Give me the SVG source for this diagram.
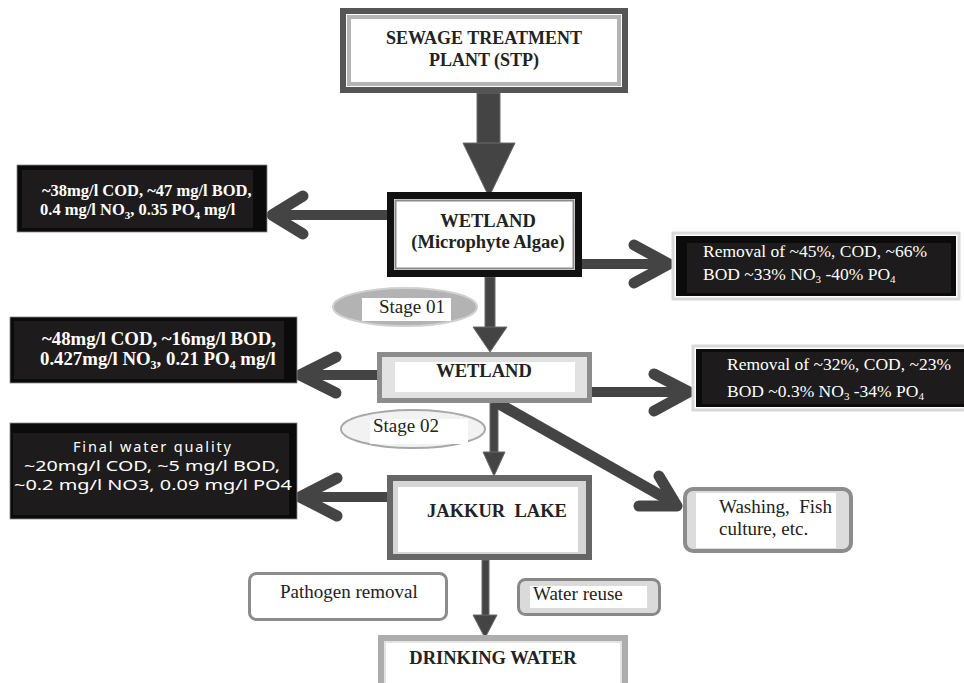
<svg xmlns="http://www.w3.org/2000/svg" width="964" height="683" viewBox="0 0 964 683">
<defs>
<style>
.bg{fill:#ffffff}
.hd{font-family:"Liberation Serif","DejaVu Serif",serif;font-weight:bold;font-size:18.5px;fill:#222;text-anchor:middle}
.wb{font-family:"Liberation Serif","DejaVu Serif",serif;font-weight:bold;font-size:16.5px;fill:#fff}
.wr{font-family:"Liberation Serif","DejaVu Serif",serif;font-size:17.5px;fill:#fff}
.rg{font-family:"Liberation Serif","DejaVu Serif",serif;font-size:19px;fill:#222}
.hw{font-family:"Noto Sans","DejaVu Sans",sans-serif;font-size:14.5px;fill:#fff;text-anchor:middle}
.blk{fill:#0b0b0b}
.blkin{fill:#1d1b1b}
.shaft{stroke:#444;stroke-width:10;fill:none;stroke-linecap:butt}
.chev{stroke:#444;stroke-width:11;fill:none;stroke-linecap:round;stroke-linejoin:round}
.solid{fill:#444;stroke:#6a6a6a;stroke-width:1}
</style>
</defs>
<rect class="bg" x="0" y="0" width="964" height="683"/>

<g id="connectors">
  <rect class="solid" x="477" y="93" width="23" height="51"/>
  <polygon class="solid" points="463,143 515,143 489,197"/>
  <rect class="solid" x="485" y="277" width="10" height="51"/>
  <polygon class="solid" points="473,327 507,327 490,352"/>
  <rect class="solid" x="490" y="403" width="8" height="50"/>
  <polygon class="solid" points="483,452 505,452 494,476"/>
  <rect class="solid" x="482" y="560" width="7" height="56"/>
  <polygon class="solid" points="473,615 497,615 485,638"/>
  <line class="shaft" x1="387" y1="215" x2="274" y2="215"/>
  <polyline class="chev" points="303,196 272,215 303,234"/>
  <line class="shaft" x1="378" y1="375" x2="302" y2="375"/>
  <polyline class="chev" points="336,357 300,375 336,393"/>
  <line class="shaft" x1="388" y1="497" x2="302" y2="497"/>
  <polyline class="chev" points="337,478 300,497 337,516"/>
  <line class="shaft" x1="582" y1="264" x2="666" y2="264"/>
  <polyline class="chev" points="634,245 669,264 634,283"/>
  <line class="shaft" x1="592" y1="392" x2="686" y2="392"/>
  <polyline class="chev" points="654,374 689,392 654,411"/>
  <line x1="494" y1="401" x2="674" y2="503" stroke="#444" stroke-width="11"/>
  <polyline class="chev" points="659,476 677,506 639,506"/>
</g>

<g id="stp">
  <rect x="343" y="11" width="282" height="79" fill="#fff" stroke="#555" stroke-width="6"/>
  <rect x="349" y="17" width="270" height="67" fill="#fff" stroke="#b4b4b4" stroke-width="4"/>
  <text class="hd" x="484" y="44" style="font-size:18px">SEWAGE TREATMENT</text>
  <text class="hd" x="484" y="66" style="font-size:18px">PLANT (STP)</text>
</g>

<g id="wetland1">
  <rect x="390.5" y="195.5" width="188" height="78" fill="#fff" stroke="#111" stroke-width="7"/>
  <rect x="395.5" y="200.5" width="178" height="68" fill="#fff" stroke="#8a8a8a" stroke-width="2"/>
  <text class="hd" x="488" y="227">WETLAND</text>
  <text class="hd" x="488" y="248">(Microphyte Algae)</text>
</g>

<g id="left1">
  <rect x="17" y="165" width="250" height="67" class="blk" stroke="#888" stroke-width="0.8"/>
  <rect x="22" y="170" width="231" height="58" class="blkin"/>
  <text class="wb" x="42" y="196">~38mg/l COD, ~47 mg/l BOD,</text>
  <text class="wb" x="40" y="215">0.4 mg/l NO<tspan font-size="11" dy="4">3</tspan><tspan dy="-4">, 0.35 PO</tspan><tspan font-size="11" dy="4">4</tspan><tspan dy="-4"> mg/l</tspan></text>
</g>

<g id="right1">
  <rect x="673" y="233" width="286" height="66" fill="#fff" stroke="#d8d8d8" stroke-width="3"/>
  <rect x="676" y="236" width="280" height="60" class="blk"/>
  <rect x="687" y="243" width="264" height="50" class="blkin"/>
  <text class="wr" x="703" y="257">Removal of ~45%, COD, ~66%</text>
  <text class="wr" x="703" y="280">BOD ~33% NO<tspan font-size="11" dy="3">3</tspan><tspan dy="-3"> -40% PO</tspan><tspan font-size="11" dy="3">4</tspan></text>
</g>

<g id="stage01">
  <ellipse cx="405" cy="307" rx="72" ry="19" fill="#b3b3b3" stroke="#d0d0d0" stroke-width="2"/>
  <rect x="362" y="298" width="89" height="23" fill="#fff"/>
  <text class="rg" x="379" y="313">Stage 01</text>
</g>

<g id="wetland2">
  <rect x="379.5" y="354.5" width="210" height="46" fill="#e2e2e2" stroke="#8c8c8c" stroke-width="5"/>
  <rect x="395" y="362" width="180" height="30" fill="#fff"/>
  <text class="hd" x="484" y="377">WETLAND</text>
</g>

<g id="left2">
  <rect x="10" y="317" width="287" height="66" class="blk" stroke="#888" stroke-width="0.8"/>
  <rect x="14" y="321" width="270" height="58" class="blkin"/>
  <text class="wb" x="42" y="345" style="font-size:18.8px">~48mg/l COD, ~16mg/l BOD,</text>
  <text class="wb" x="40" y="365" style="font-size:18.8px">0.427mg/l NO<tspan font-size="12" dy="4">3</tspan><tspan dy="-4">, 0.21 PO</tspan><tspan font-size="12" dy="4">4</tspan><tspan dy="-4"> mg/l</tspan></text>
</g>

<g id="right2">
  <rect x="693" y="346" width="272" height="64" fill="#fff" stroke="#d8d8d8" stroke-width="3"/>
  <rect x="696" y="349" width="268" height="58" class="blk"/>
  <rect x="702" y="352" width="262" height="52" class="blkin"/>
  <text class="wr" x="727" y="370">Removal of ~32%, COD, ~23%</text>
  <text class="wr" x="727" y="397">BOD ~0.3% NO<tspan font-size="11" dy="3">3</tspan><tspan dy="-3"> -34% PO</tspan><tspan font-size="11" dy="3">4</tspan></text>
</g>

<g id="stage02">
  <ellipse cx="413" cy="429" rx="72" ry="19" fill="#f2f2f2" stroke="#a8a8a8" stroke-width="2"/>
  <rect x="370" y="419" width="98" height="25" fill="#fff"/>
  <text class="rg" x="373" y="432">Stage 02</text>
</g>

<g id="left3">
  <rect x="10" y="423" width="287" height="96" class="blk" stroke="#888" stroke-width="0.8"/>
  <rect x="13" y="433" width="276" height="82" class="blkin"/>
  <text class="hw" x="152" y="452" textLength="158" lengthAdjust="spacing">Final  water  quality</text>
  <text class="hw" x="152" y="471" textLength="256" lengthAdjust="spacingAndGlyphs">~20mg/l COD, ~5 mg/l BOD,</text>
  <text class="hw" x="153" y="490" textLength="278" lengthAdjust="spacingAndGlyphs">~0.2 mg/l NO3, 0.09 mg/l PO4</text>
</g>

<g id="jakkur">
  <rect x="390" y="478" width="199" height="79" fill="#d6d6d6" stroke="#666" stroke-width="6"/>
  <rect x="398" y="487" width="180" height="65" fill="#fff"/>
  <text class="hd" x="497" y="517" xml:space="preserve">JAKKUR  LAKE</text>
</g>

<g id="washing">
  <rect x="685" y="489" width="166" height="62" rx="8" fill="#dcdcdc" stroke="#8c8c8c" stroke-width="4"/>
  <rect x="696" y="493" width="140" height="55" fill="#fff"/>
  <text class="rg" x="719" y="513" xml:space="preserve">Washing,  Fish</text>
  <text class="rg" x="719" y="535">culture, etc.</text>
</g>

<g id="pathogen">
  <rect x="249.5" y="573.5" width="197" height="46" rx="7" fill="#fff" stroke="#8c8c8c" stroke-width="3"/>
  <text class="rg" x="280" y="598">Pathogen removal</text>
</g>

<g id="reuse">
  <rect x="518.5" y="579.5" width="141" height="35" rx="7" fill="#dadada" stroke="#888" stroke-width="3"/>
  <rect x="530" y="586" width="117" height="22" fill="#fff"/>
  <text class="rg" x="533" y="600">Water reuse</text>
</g>

<g id="drinking">
  <rect x="381" y="638" width="244" height="60" fill="#e4e4e4" stroke="#adadad" stroke-width="6"/>
  <rect x="386" y="643" width="234" height="45" fill="#fff"/>
  <text class="hd" x="493" y="664">DRINKING WATER</text>
</g>
</svg>
